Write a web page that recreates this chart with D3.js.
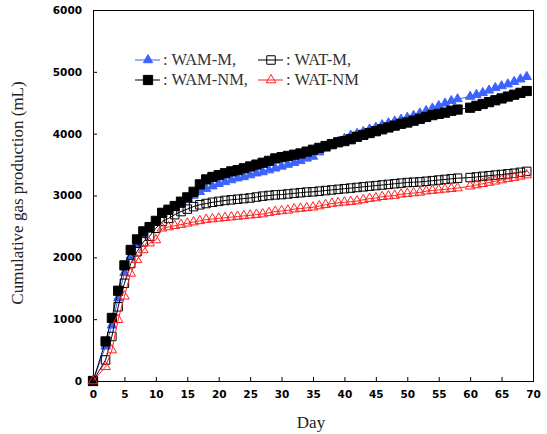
<!DOCTYPE html>
<html><head><meta charset="utf-8">
<script src="https://cdn.jsdelivr.net/npm/d3@7"></script>
<style>body{margin:0;background:#fff}svg{display:block}</style>
</head><body>
<script>
const days = [0,2,3,4,5,6,7,8,9,10,11,12,13,14,15,16,17,18,19,20,21,22,23,24,25,26,27,28,29,30,31,32,33,34,35,36,37,38,39,40,41,42,43,44,45,46,47,48,49,50,51,52,53,54,55,56,57,58,60,61,62,63,64,65,66,67,68,69];
const wamM  = [0,560,900,1340,1750,2020,2220,2380,2470,2570,2700,2760,2800,2860,2930,3000,3060,3110,3150,3190,3220,3250,3280,3300,3330,3360,3380,3410,3440,3470,3500,3530,3560,3600,3630,3700,3760,3820,3870,3920,3970,4000,4030,4070,4100,4140,4170,4200,4230,4260,4290,4330,4370,4410,4450,4490,4530,4560,4600,4630,4660,4700,4740,4770,4800,4840,4880,4920];
const wamNM = [0,640,1020,1460,1870,2120,2290,2420,2490,2590,2720,2770,2830,2900,2970,3060,3180,3260,3300,3330,3360,3390,3410,3440,3470,3500,3530,3560,3600,3620,3640,3660,3680,3710,3740,3770,3800,3830,3860,3880,3910,3950,3980,4010,4040,4070,4100,4130,4160,4180,4210,4240,4270,4300,4320,4340,4370,4390,4420,4450,4480,4510,4540,4570,4600,4630,4660,4690];
const watM  = [0,340,720,1200,1580,1900,2090,2250,2340,2470,2580,2630,2690,2740,2780,2820,2850,2870,2890,2905,2920,2930,2940,2950,2960,2975,2990,3000,3010,3015,3025,3035,3045,3055,3060,3070,3080,3090,3100,3110,3120,3130,3140,3150,3160,3170,3180,3190,3200,3210,3215,3220,3230,3240,3250,3260,3270,3280,3290,3300,3310,3320,3330,3340,3350,3360,3375,3390];
const watNM = [0,230,500,990,1370,1740,1960,2120,2230,2280,2470,2490,2510,2530,2550,2570,2590,2610,2620,2630,2640,2650,2660,2670,2680,2690,2700,2720,2740,2750,2760,2780,2790,2800,2810,2830,2850,2870,2880,2890,2900,2910,2930,2950,2960,2980,2990,3000,3020,3030,3040,3050,3070,3080,3090,3100,3110,3120,3150,3170,3190,3210,3230,3250,3270,3290,3310,3330];
const xTicks = [0,5,10,15,20,25,30,35,40,45,50,55,60,65,70];
const yTicks = [0,1000,2000,3000,4000,5000,6000];
const legendLabels = [": WAM-M,", ": WAT-M,", ": WAM-NM,", ": WAT-NM"];

const W = 547, H = 434;
const m = {l:93, r:14, t:10, b:53};
const svg = d3.select("body").append("svg").attr("width", W).attr("height", H);
const x = d3.scaleLinear().domain([0,70]).range([m.l, W-m.r]);
const y = d3.scaleLinear().domain([0,6000]).range([H-m.b, m.t]);

svg.append("rect").attr("x", m.l).attr("y", m.t).attr("width", W-m.r-m.l).attr("height", H-m.b-m.t)
  .attr("fill","none").attr("stroke","#000").attr("stroke-width",1).attr("shape-rendering","crispEdges");

const xAxis = svg.append("g").attr("transform",`translate(0,${H-m.b})`)
  .call(d3.axisBottom(x).tickValues(xTicks).tickFormat(d3.format("d")).tickSizeInner(-4).tickSizeOuter(0).tickPadding(10));
const yAxis = svg.append("g").attr("transform",`translate(${m.l},0)`)
  .call(d3.axisLeft(y).tickValues(yTicks).tickFormat(d3.format("d")).tickSizeInner(-4).tickSizeOuter(0).tickPadding(11));
[xAxis,yAxis].forEach(a=>{
  a.select(".domain").attr("stroke","#000");
  a.selectAll(".tick line").attr("stroke","#000");
  a.selectAll("text").attr("font-family","DejaVu Sans").attr("font-weight","bold").attr("font-size","10.5px").attr("fill","#000");
});

const series = [
  {name:"WAM-M", vals:wamM, color:"#3d63ff", sym:d3.symbolTriangle, size:38, fill:"#3d63ff"},
  {name:"WAM-NM", vals:wamNM, color:"#000", sym:d3.symbolSquare, size:85, fill:"#000"},
  {name:"WAT-M", vals:watM, color:"#000", sym:d3.symbolSquare, size:72, fill:"none"},
  {name:"WAT-NM", vals:watNM, color:"#ff2020", sym:d3.symbolTriangle, size:40, fill:"none"}
];
const line = d3.line().x((d,i)=>x(days[i])).y(d=>y(d));
series.forEach(s=>{
  const g = svg.append("g");
  g.append("path").attr("d", line(s.vals)).attr("fill","none").attr("stroke", s.color).attr("stroke-width",1);
  g.selectAll("path.m").data(s.vals).enter().append("path").attr("class","m")
    .attr("d", d3.symbol().type(s.sym).size(s.size))
    .attr("transform",(d,i)=>`translate(${x(days[i])},${y(d)})`)
    .attr("fill", s.fill).attr("stroke", s.color).attr("stroke-width", 1);
});

const leg = [
  {s:series[0], lx:135, ty:60, label:legendLabels[0]},
  {s:series[2], lx:258, ty:60, label:legendLabels[1]},
  {s:series[1], lx:135, ty:80, label:legendLabels[2]},
  {s:series[3], lx:258, ty:80, label:legendLabels[3]}
];
leg.forEach(l=>{
  svg.append("line").attr("x1",l.lx).attr("x2",l.lx+25).attr("y1",l.ty).attr("y2",l.ty).attr("stroke",l.s.color).attr("stroke-width",1);
  svg.append("path").attr("d", d3.symbol().type(l.s.sym).size(l.s.size)).attr("transform",`translate(${l.lx+13},${l.ty})`)
    .attr("fill",l.s.fill).attr("stroke",l.s.color);
  svg.append("text").attr("x",l.lx+28).attr("y",l.ty+5).text(l.label)
    .attr("font-family","Liberation Serif").attr("font-size","16.5px").attr("fill","#333");
});

svg.append("text").attr("x", 311).attr("y", 428).attr("text-anchor","middle").text("Day")
  .attr("font-family","Liberation Serif").attr("font-size","17px").attr("fill","#222");
svg.append("text").attr("transform","translate(23,193) rotate(-90)").attr("text-anchor","middle")
  .text("Cumulative gas production (mL)")
  .attr("font-family","Liberation Serif").attr("font-size","17px").attr("fill","#222");
</script>
</body></html>
